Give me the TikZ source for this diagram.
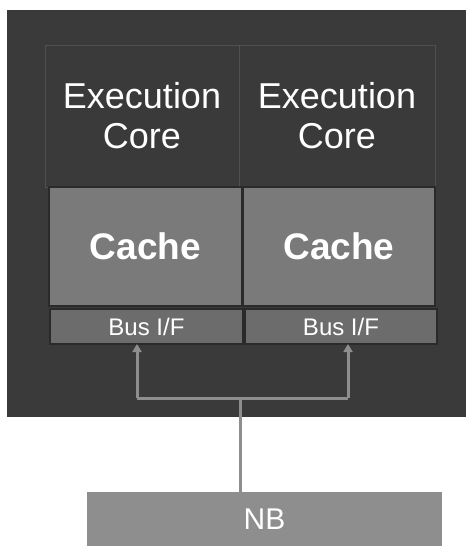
\documentclass[tikz,border=0pt]{standalone}
\usepackage{fontspec}
\setmainfont{Liberation Sans}
\usetikzlibrary{arrows.meta}
\definecolor{chipbg}{HTML}{3A3A3A}
\definecolor{coreedge}{HTML}{505050}
\definecolor{cachefill}{HTML}{7A7A7A}
\definecolor{busfill}{HTML}{6C6C6C}
\definecolor{nbfill}{HTML}{8E8E8E}
\definecolor{wire}{HTML}{8E8E8E}
\definecolor{edgedark}{HTML}{2A2A2A}
\tikzset{
  blk/.style={rectangle, inner sep=0pt, outer sep=0pt, align=center, text=white},
  corebox/.style={blk, draw=coreedge, line width=0.8pt, fill=chipbg,
    font=\fontsize{36}{40}\selectfont},
  cachebox/.style={blk, draw=edgedark, line width=1.5pt, fill=cachefill,
    font=\fontsize{37}{40}\selectfont\bfseries},
  busbox/.style={blk, draw=edgedark, line width=1.5pt, fill=busfill,
    font=\fontsize{24}{26}\selectfont},
  nbbox/.style={blk, fill=nbfill, font=\fontsize{30}{32}\selectfont},
  wireline/.style={draw=wire, line width=3pt},
  wirearrow/.style={wireline, -{Triangle[length=8pt,width=9pt]}}
}
\begin{document}
\begin{tikzpicture}[x=1pt,y=-1pt]
\useasboundingbox (0,0) rectangle (470,546);
\fill[white] (0,0) rectangle (470,546);
% chip
\node[blk, fill=chipbg, minimum width=459pt, minimum height=407pt] (chip) at (236.5,213.5) {};
% cores
\node[corebox, minimum width=194pt, minimum height=142pt] (coreL) at (142,116) {Execution\\Core};
\node[corebox, minimum width=196pt, minimum height=142pt] (coreR) at (337,116) {Execution\\Core};
% caches
\node[cachebox, minimum width=193pt, minimum height=119pt] (cacheL) at (145.5,246.5) {Cache};
\node[cachebox, minimum width=192pt, minimum height=119pt] (cacheR) at (339,246.5) {Cache};
% bus interfaces
\node[busbox, minimum width=193pt, minimum height=35pt] (busL) at (146.5,326.5) {Bus I/F};
\node[busbox, minimum width=192pt, minimum height=35pt] (busR) at (341,326.5) {Bus I/F};
% NB
\node[nbbox, minimum width=355pt, minimum height=54pt] (nb) at (264.5,519) {NB};
% connectors
\coordinate (jL) at (137,398);
\coordinate (jR) at (348,398);
\coordinate (j) at (240,398);
\draw[wireline] (jL) -- (jR);
\draw[wirearrow] (jL) -- (jL |- busL.south);
\draw[wirearrow] (jR) -- (jR |- busR.south);
\draw[wireline] (j) -- (j |- nb.north);
\end{tikzpicture}
\end{document}
